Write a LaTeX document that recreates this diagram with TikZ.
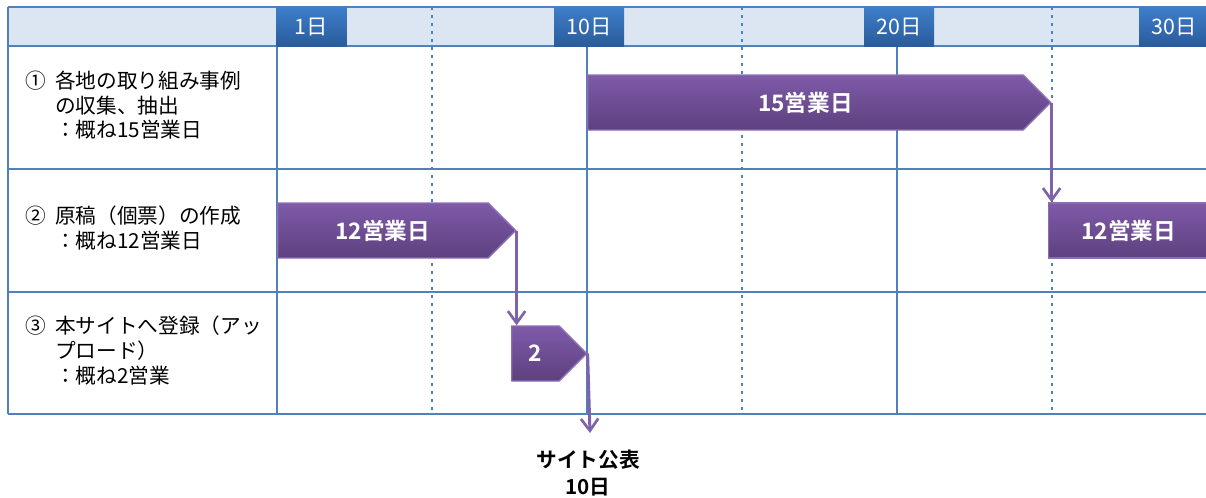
\documentclass[tikz,border=0pt]{standalone}
\usepackage{fontspec}
\setmainfont{Noto Sans CJK JP}[BoldFont={Noto Sans CJK JP Bold}]
\usetikzlibrary{shapes.symbols,arrows.meta}
\definecolor{gridblue}{HTML}{4F81BD}
\definecolor{headfill}{HTML}{DCE6F2}
\definecolor{dayhi}{HTML}{3E7ECB}
\definecolor{daylo}{HTML}{2A5B9B}
\definecolor{barhi}{HTML}{7F5AA8}
\definecolor{barlo}{HTML}{5D417F}
\definecolor{barline}{HTML}{8B6FB6}
\definecolor{flowline}{HTML}{7E63AA}
\tikzset{
  gridline/.style={gridblue,line width=1.5pt},
  dotline/.style={gridblue,line width=2pt,dash pattern=on 2pt off 4pt},
  daybox/.style={minimum width=52.5pt,minimum height=29.25pt,inner sep=0pt,
    top color=dayhi,bottom color=daylo,text=white,font=\fontsize{16}{18}\selectfont},
  task/.style={signal,signal to=east,signal pointer angle=90,minimum height=41.25pt,
    inner sep=0pt,top color=barhi,bottom color=barlo,draw=barline,line width=1pt,
    text=white,font=\bfseries\fontsize{17}{19}\selectfont,anchor=west},
  flow/.style={draw=flowline,line width=2.25pt,
    -{Straight Barb[length=9pt,width=13pt,line width=2pt]}},
  rowlabel/.style={anchor=west,inner sep=0pt,font=\fontsize{15.5}{18}\selectfont}
}
\begin{document}
\begin{tikzpicture}[x=0.75pt,y=-0.75pt]
  \useasboundingbox (0,0) rectangle (1206,497);
  % header band
  \fill[headfill] (8,7) rectangle (1206,46);
  % dotted half-way lines
  \foreach \x in {432,742,1052}
    \draw[dotline] (\x,7) -- (\x,414);
  % table grid
  \foreach \y in {7,46,169,292,414}
    \draw[gridline] (8,\y) -- (1206,\y);
  \foreach \x in {8,277,587,897}
    \draw[gridline] (\x,7) -- (\x,414);

  % day markers
  \node[daybox] (d1)  at (311.5,26.5) {1日};
  \node[daybox] (d10) at (589,26.5)   {10日};
  \node[daybox] (d20) at (899,26.5)   {20日};
  \node[daybox] (d30) at (1174,26.5)  {30日};

  % row labels
  \node[rowlabel] (r1) at (25,108) {\begin{tabular}{@{}l@{\hspace{7pt}}l@{}}①&各地の取り組み事例\\&の収集、抽出\\&：概ね15営業日\end{tabular}};
  \node[rowlabel] (r2) at (25,230.5) {\begin{tabular}{@{}l@{\hspace{7pt}}l@{}}②&原稿（個票）の作成\\&：概ね12営業日\end{tabular}};
  \node[rowlabel] (r3) at (25,353) {\begin{tabular}{@{}l@{\hspace{7pt}}l@{}}③&本サイトへ登録（アッ\\&プロード）\\&：概ね2営業\end{tabular}};

  % task bars
  \node[task,minimum width=347.25pt] (b15) at (587,102.5) {15営業日};
  \node[task,minimum width=178.5pt] (b12a) at (277,230.5) {12営業日};
  \node[task,signal to=nowhere,minimum width=120pt] (b12b) at (1048,230.5) {12営業日};
  \node[task,minimum width=56.25pt] (b2) at (511,353.5) {2};

  % release
  \node[font=\bfseries\fontsize{15.5}{20.25}\selectfont,align=center] (pub) at (588,473) {サイト公表\\10日};
  \coordinate (rel) at (590,433);

  % flow arrows
  \draw[flow] (b15.east) -- (b15.east |- b12b.north);
  \draw[flow] (b12a.east) -- (b12a.east |- b2.north);
  \draw[flow] (b2.east) -- (rel);
\end{tikzpicture}
\end{document}
